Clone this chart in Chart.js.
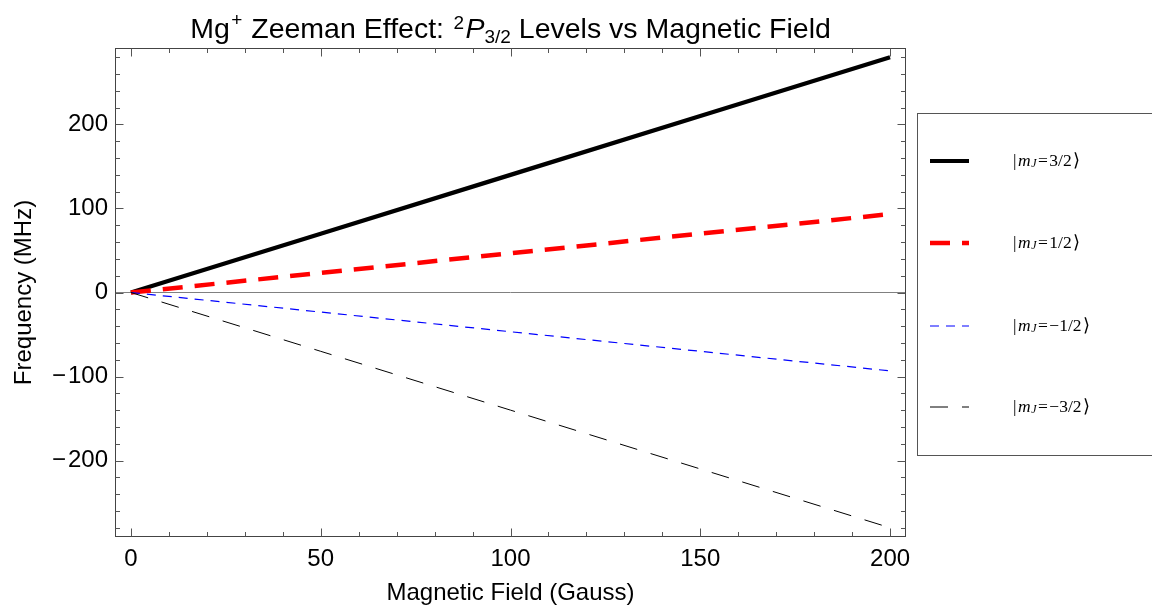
<!DOCTYPE html>
<html><head><meta charset="utf-8">
<script src="https://cdn.jsdelivr.net/npm/chart.js@4.4.1/dist/chart.umd.min.js"></script>
<style>html,body{margin:0;padding:0;background:#fff;overflow:hidden}#wrap{width:1152px;height:608px;position:relative}</style>
</head><body><div id="wrap"><canvas id="c" width="1152" height="608"></canvas></div>
<script>
// ---- data ----
const fieldGauss   = [0, 50, 100, 150, 200];
const mJ_plus3_2   = [0, 70, 140, 210, 280];
const mJ_plus1_2   = [0, 23.3, 46.7, 70, 93.3];
const mJ_minus1_2  = [0, -23.3, -46.7, -70, -93.3];
const mJ_minus3_2  = [0, -70, -140, -210, -280];
const mJValues     = ['3/2', '1/2', '\u22121/2', '\u22123/2'];
const xTickValues  = [0, 50, 100, 150, 200];
const yTickValues  = [-200, -100, 0, 100, 200];
const xAxisTitle   = 'Magnetic Field (Gauss)';
const yAxisTitle   = 'Frequency (MHz)';

const SANS = "'Liberation Sans', Arial, sans-serif";
const SERIF = "'Liberation Serif', 'Times New Roman', serif";

function pts(ys) { return fieldGauss.map((x, i) => ({x: x, y: ys[i]})); }
const seriesList = [mJ_plus3_2, mJ_plus1_2, mJ_minus1_2, mJ_minus3_2];
const styles = [
  {c: '#000000', w: 4.2, d: []},
  {c: '#ff0000', w: 4.5, d: [20, 12]},
  {c: '#0000ff', w: 1.2, d: [9, 7]},
  {c: '#000000', w: 1, d: [18, 14]}
];
const datasets = seriesList.map((s, i) => ({
  label: '|mJ=' + mJValues[i] + '\u27E9',
  data: pts(s),
  borderColor: styles[i].c,
  borderWidth: styles[i].w,
  borderDash: styles[i].d,
  pointRadius: 0,
  fill: false,
  tension: 0,
  order: 3 - i
}));

const frameTicks = {
  id: 'frameTicks',
  afterDatasetsDraw(chart) {
    const {ctx, chartArea: a, scales: {x, y}} = chart;
    ctx.save();
    ctx.strokeStyle = '#444'; ctx.lineWidth = 1;
    const L = Math.round(a.left) + 0.5, R = Math.round(a.right) - 0.5;
    const T = Math.round(a.top) + 0.5, B = Math.round(a.bottom) - 0.5;
    ctx.strokeRect(L, T, R - L, B - T);
    ctx.strokeStyle = '#555';
    ctx.beginPath();
    for (let v = 0; v <= 200; v += 10) {
      const px = Math.round(x.getPixelForValue(v)) + 0.5;
      const len = v % 50 === 0 ? 8 : 4.5;
      ctx.moveTo(px, B); ctx.lineTo(px, B - len);
      ctx.moveTo(px, T); ctx.lineTo(px, T + len);
    }
    for (let v = -280; v <= 280; v += 20) {
      const py = Math.round(y.getPixelForValue(v)) + 0.5;
      const len = v % 100 === 0 ? 8 : 4.5;
      ctx.moveTo(L, py); ctx.lineTo(L + len, py);
      ctx.moveTo(R, py); ctx.lineTo(R - len, py);
    }
    ctx.stroke();
    ctx.restore();
  }
};

function drawRich(ctx, parts, x, baseline, align) {
  let w = 0;
  parts.forEach(p => { ctx.font = p.f; p.w = ctx.measureText(p.t).width; w += p.w + (p.gap || 0); });
  let cx = align === 'center' ? x - w / 2 : x;
  parts.forEach(p => {
    ctx.font = p.f;
    ctx.fillText(p.t, cx, baseline + (p.dy || 0));
    cx += p.w + (p.gap || 0);
  });
}

const richTitle = {
  id: 'richTitle',
  afterDraw(chart) {
    const {ctx, chartArea: a} = chart;
    ctx.save();
    ctx.fillStyle = '#000'; ctx.textBaseline = 'alphabetic'; ctx.textAlign = 'left';
    const F = '28.5px ' + SANS, S = '19px ' + SANS;
    drawRich(ctx, [
      {t: 'Mg', f: F, gap: 1.5},
      {t: '+', f: S, dy: -12, gap: 1},
      {t: ' Zeeman Effect: ', f: F, gap: 1.5},
      {t: '2', f: S, dy: -9, gap: 1.5},
      {t: 'P', f: 'italic ' + F},
      {t: '3/2', f: S, dy: 5},
      {t: ' Levels vs Magnetic Field', f: F}
    ], (a.left + a.right) / 2, 38, 'center');
    ctx.restore();
  }
};

const legendBox = {
  id: 'legendBox',
  afterDraw(chart) {
    const ctx = chart.ctx;
    ctx.save();
    ctx.strokeStyle = '#555'; ctx.lineWidth = 1;
    ctx.strokeRect(917.5, 113.5, 300, 342);
    const rows = [161, 243, 326, 407];
    chart.data.datasets.forEach((ds, i) => {
      const yy = rows[i];
      ctx.save();
      ctx.strokeStyle = ds.borderColor; ctx.lineWidth = ds.borderWidth;
      ctx.setLineDash(ds.borderDash);
      ctx.beginPath(); ctx.moveTo(930, yy); ctx.lineTo(969, yy); ctx.stroke();
      ctx.restore();
      ctx.fillStyle = '#000'; ctx.textBaseline = 'middle'; ctx.textAlign = 'left';
      drawRich(ctx, [
        {t: '|', f: '17.5px ' + SERIF, gap: 1.5},
        {t: 'm', f: 'italic 17.5px ' + SERIF, gap: 0.5},
        {t: 'J', f: 'italic 12px ' + SERIF, dy: 3, gap: 1.5},
        {t: '=', f: '17.5px ' + SERIF, gap: 1.5},
        {t: mJValues[i], f: '17.5px ' + SERIF, gap: 1.5},
        {t: '\u27E9', f: '17.5px ' + SERIF}
      ], 1013, yy, 'left');
    });
    ctx.restore();
  }
};

new Chart(document.getElementById('c'), {
  type: 'line',
  data: {datasets: datasets},
  options: {
    responsive: false,
    devicePixelRatio: 1,
    animation: false,
    layout: {padding: {top: 48, right: 246, left: 0, bottom: 0}},
    plugins: {legend: {display: false}, title: {display: false}, tooltip: {enabled: false}},
    scales: {
      x: {
        type: 'linear', min: -4.2, max: 204.2,
        afterBuildTicks: s => { s.ticks = xTickValues.map(v => ({value: v})); },
        afterFit: s => { s.height = 71; },
        ticks: {font: {family: SANS, size: 24}, color: '#000', padding: 8, maxRotation: 0, autoSkip: false},
        grid: {display: false, drawTicks: false},
        border: {display: false},
        title: {display: true, text: xAxisTitle, color: '#000', font: {family: SANS, size: 24}, padding: {top: 0, bottom: 0}}
      },
      y: {
        type: 'linear', min: -291, max: 291,
        afterBuildTicks: s => { s.ticks = yTickValues.map(v => ({value: v})); },
        afterFit: s => { s.width = 115; },
        ticks: {font: {family: SANS, size: 24}, color: '#000', padding: 7, autoSkip: false,
          callback: v => v < 0 ? '\u2212\u200A' + Math.abs(v) : String(v)},
        grid: {drawTicks: false, lineWidth: 1,
          color: c => (c.tick && c.tick.value === 0) ? '#808080' : 'rgba(0,0,0,0)'},
        border: {display: false},
        title: {display: true, text: yAxisTitle, color: '#000', font: {family: SANS, size: 24}, padding: {top: 10, bottom: 0}}
      }
    }
  },
  plugins: [frameTicks, richTitle, legendBox]
});
</script>
</body></html>
